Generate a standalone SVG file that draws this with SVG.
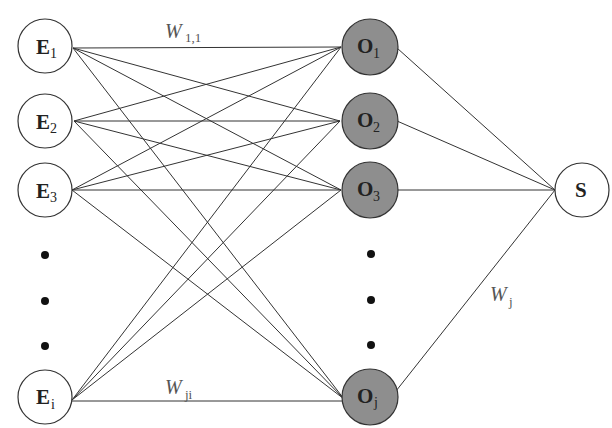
<svg xmlns="http://www.w3.org/2000/svg" width="612" height="428" viewBox="0 0 612 428">
<style>
.n{fill:#fff;stroke:#333;stroke-width:1.2}
.o{fill:#8e8e8e;stroke:#333;stroke-width:1.2}
.c line{stroke:#333;stroke-width:1}
.lb{font-family:"Liberation Serif",serif;font-weight:bold;font-size:21px;fill:#222}
.sb{font-family:"Liberation Serif",serif;font-weight:normal;font-size:14px;fill:#222}
.w{font-family:"Liberation Serif",serif;font-style:italic;font-size:20px;fill:#555}
.ws{font-family:"Liberation Serif",serif;font-style:normal;font-size:13px;fill:#555}
.d{fill:#111}
</style>
<rect width="612" height="428" fill="#fff"/>
<g class="c" id="connectors">
<line x1="73" y1="48" x2="341" y2="47"/>
<line x1="73" y1="48" x2="340" y2="121"/>
<line x1="73" y1="48" x2="341" y2="190"/>
<line x1="73" y1="48" x2="344" y2="399"/>
<line x1="74" y1="121" x2="341" y2="47"/>
<line x1="74" y1="121" x2="340" y2="121"/>
<line x1="74" y1="121" x2="341" y2="190"/>
<line x1="74" y1="121" x2="344" y2="399"/>
<line x1="72" y1="190" x2="341" y2="47"/>
<line x1="72" y1="190" x2="340" y2="121"/>
<line x1="72" y1="190" x2="341" y2="190"/>
<line x1="72" y1="190" x2="344" y2="399"/>
<line x1="72" y1="400" x2="341" y2="47"/>
<line x1="72" y1="400" x2="340" y2="121"/>
<line x1="72" y1="400" x2="341" y2="190"/>
<line x1="72" y1="401" x2="344" y2="401"/>
<line x1="397" y1="48" x2="555" y2="190"/>
<line x1="397" y1="121" x2="555" y2="190"/>
<line x1="397" y1="190" x2="555" y2="190"/>
<line x1="396" y1="391" x2="555" y2="190"/>
</g>
<g id="E1"><circle class="n" cx="45" cy="46" r="27"/><text class="lb" x="36" y="54">E<tspan class="sb" x="50" y="58">1</tspan></text></g>
<g id="E2"><circle class="n" cx="45" cy="121" r="27"/><text class="lb" x="36" y="129">E<tspan class="sb" x="50" y="133">2</tspan></text></g>
<g id="E3"><circle class="n" cx="45" cy="190" r="27"/><text class="lb" x="36" y="198">E<tspan class="sb" x="50" y="202">3</tspan></text></g>
<g id="Ei"><circle class="n" cx="45" cy="397" r="27"/><text class="lb" x="36" y="404">E<tspan class="sb" x="51" y="409">i</tspan></text></g>
<g id="Edots"><circle class="d" cx="45" cy="255" r="4"/><circle class="d" cx="45" cy="301" r="4"/><circle class="d" cx="45" cy="346" r="4"/></g>
<g id="O1"><circle class="o" cx="370" cy="47" r="28"/><text class="lb" x="357" y="53">O<tspan class="sb" x="373" y="58">1</tspan></text></g>
<g id="O2"><circle class="o" cx="370" cy="121" r="28"/><text class="lb" x="357" y="127">O<tspan class="sb" x="373" y="132">2</tspan></text></g>
<g id="O3"><circle class="o" cx="370" cy="190" r="28"/><text class="lb" x="357" y="196">O<tspan class="sb" x="373" y="201">3</tspan></text></g>
<g id="Oj"><circle class="o" cx="370" cy="397" r="28"/><text class="lb" x="357" y="403">O<tspan class="sb" x="374" y="407">j</tspan></text></g>
<g id="Odots"><circle class="d" cx="371" cy="254" r="4"/><circle class="d" cx="371" cy="300" r="4"/><circle class="d" cx="371" cy="345" r="4"/></g>
<g id="S"><circle class="n" cx="582" cy="190" r="27"/><text class="lb" x="575" y="197">S</text></g>
<g id="labels">
<text class="w" x="165" y="38">W<tspan class="ws" x="185" y="42">1,1</tspan></text>
<text class="w" x="165" y="394">W<tspan class="ws" x="185" y="399">ji</tspan></text>
<text class="w" x="490" y="301">W<tspan class="ws" x="509" y="306">j</tspan></text>
</g>
</svg>
